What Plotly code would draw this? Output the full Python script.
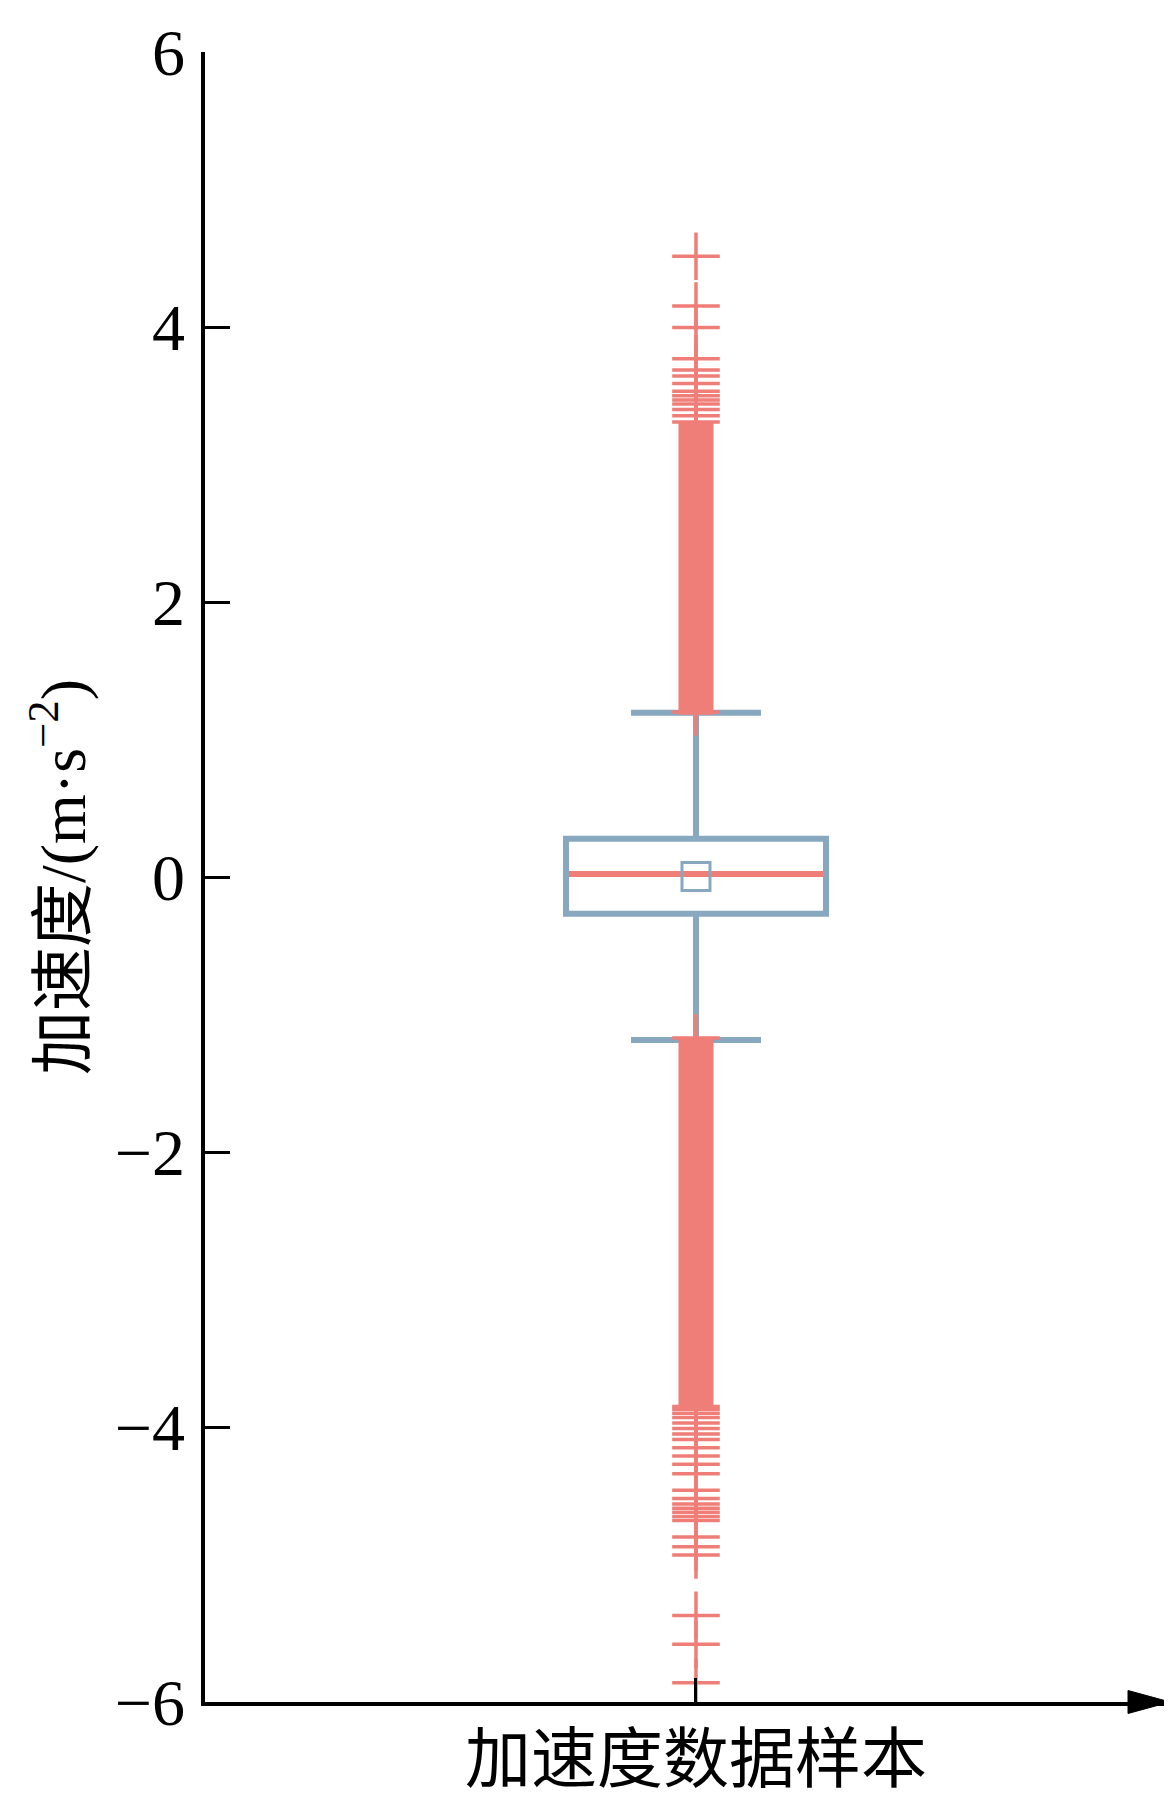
import plotly.graph_objects as go

# ---- data ----
sample_name = "加速度数据样本"
q1, median, q3 = -0.267, 0.022, 0.278
lower_fence, upper_fence = -1.185, 1.194
mean_value = 0.004

upper_outliers = [1.20, 3.31, 3.355, 3.40, 3.44, 3.47, 3.50, 3.532, 3.59,
                  3.643, 3.687, 3.77, 3.997, 4.152, 4.515]
lower_outliers = [-1.17, -3.85, -3.87, -3.90, -3.93, -3.97, -4.01, -4.05,
                  -4.09, -4.15, -4.21, -4.27, -4.34, -4.46, -4.52, -4.56,
                  -4.59, -4.62, -4.65, -4.68, -4.80, -4.87, -4.93, -5.37,
                  -5.58, -5.86]
# dense runs of outliers (drawn as a solid band of markers)
upper_band = [1.18, 3.31]
lower_band = [-3.85, -1.17]

y_tickvals = [-6, -4, -2, 0, 2, 4, 6]
y_ticktext = ["−6", "−4", "−2", "0", "2", "4", "6"]

# ---- style ----
RED = "#F07E78"
BLUE = "#87A8BF"
FONT = "Liberation Serif, Times New Roman, Noto Sans CJK SC, serif"

# page has an 8px body margin; size the figure to fit inside the window
W, H = 1164, 1804
ml, mr, mt, mb = 197, 2, 44, 110
plot_w = W - ml - mr
plot_h = H - mt - mb
x_range = [-1.0, 0.9654]
px_per_x = plot_w / (x_range[1] - x_range[0])
box_w = 260 / px_per_x
half_inner = (box_w / 2) - 3 / px_per_x

fig = go.Figure()

fig.add_trace(go.Box(
    x=[0], q1=[q1], median=[median], q3=[q3],
    lowerfence=[lower_fence], upperfence=[upper_fence],
    width=box_w, whiskerwidth=0.5, boxpoints=False,
    line=dict(color=BLUE, width=6), fillcolor="white",
    hoverinfo="skip", showlegend=False,
))

# median line (red)
fig.add_trace(go.Scatter(
    x=[-half_inner, half_inner], y=[median, median], mode="lines",
    line=dict(color=RED, width=6), hoverinfo="skip", showlegend=False,
))

# mean square
fig.add_trace(go.Scatter(
    x=[0], y=[mean_value], mode="markers",
    marker=dict(symbol="square-open", size=28, color=BLUE,
                line=dict(color=BLUE, width=3)),
    hoverinfo="skip", showlegend=False,
))

# dense outlier bands
for band in (upper_band, lower_band):
    fig.add_trace(go.Scatter(
        x=[0, 0], y=band, mode="lines",
        line=dict(color=RED, width=35), hoverinfo="skip", showlegend=False,
    ))

# individual outliers
fig.add_trace(go.Scatter(
    x=[0] * (len(upper_outliers) + len(lower_outliers)),
    y=upper_outliers + lower_outliers, mode="markers",
    marker=dict(symbol="cross-thin", size=34, color=RED,
                line=dict(color=RED, width=3.5)),
    hoverinfo="skip", showlegend=False,
))

# arrow head at the end of the x axis (paper coordinates, not clipped)
ah = 11.5 / plot_h
base_x = 1 - 42 / plot_w
fig.add_shape(type="path",
              path=f"M {base_x} {ah} L 1 0 L {base_x} {-ah} Z",
              xref="paper", yref="paper", fillcolor="black",
              line=dict(color="black", width=1), layer="above")

fig.update_layout(
    width=W, height=H,
    margin=dict(l=ml, r=mr, t=mt, b=mb, pad=0),
    paper_bgcolor="white", plot_bgcolor="white",
    font=dict(family=FONT, color="black"),
    xaxis=dict(range=x_range, showgrid=False, zeroline=False,
               showline=True, linecolor="black", linewidth=3.5,
               ticks="inside", ticklen=24, tickwidth=3, tickcolor="black",
               tickvals=[0], showticklabels=False, fixedrange=True),
    yaxis=dict(range=[-6, 6], showgrid=False, zeroline=False,
               showline=True, linecolor="black", linewidth=3.5,
               ticks="inside", ticklen=25, tickwidth=3, tickcolor="black",
               tickvals=y_tickvals, ticktext=y_ticktext,
               tickfont=dict(family=FONT, size=66, color="black"),
               ticklabelstandoff=3, fixedrange=True),
    annotations=[
        dict(text=sample_name, x=0, xref="x", y=-(1751 - (H - mb)) / plot_h,
             yref="paper", showarrow=False, xanchor="center", yanchor="middle",
             font=dict(family=FONT, size=66, color="black")),
        dict(text="加速度/(m·s<sup>−2</sup>)", textangle=-90,
             x=(50 - ml) / plot_w, xref="paper", y=0.5, yref="paper",
             showarrow=False, xanchor="center", yanchor="middle",
             font=dict(family=FONT, size=64, color="black")),
    ],
)

fig.write_html("out.html")
